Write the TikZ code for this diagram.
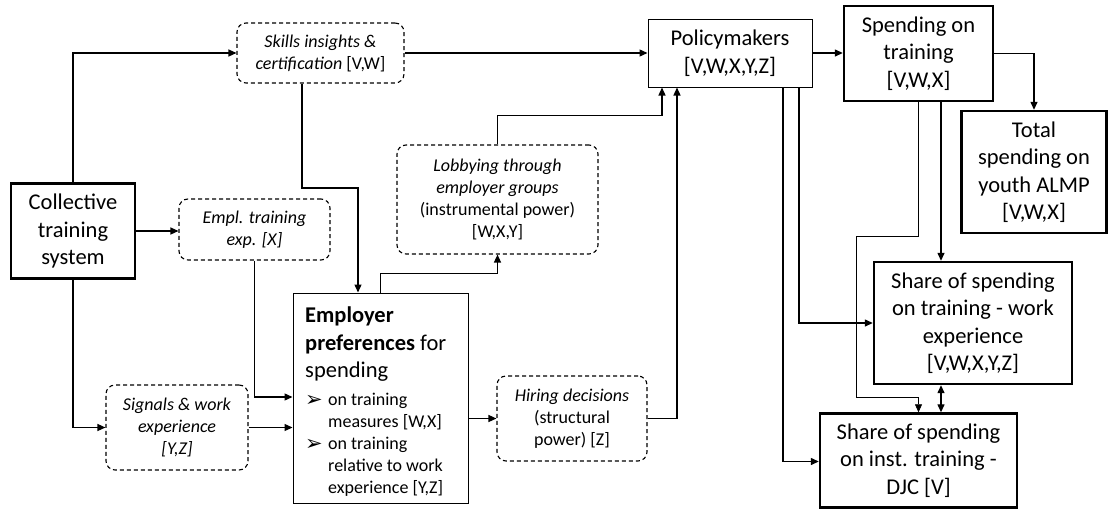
\documentclass[tikz,border=0pt]{standalone}
\usepackage{fontspec}
\setmainfont{Carlito}
\newfontfamily\dejavu{DejaVu Sans}
\usetikzlibrary{arrows.meta}
\tikzset{
  mainfont/.style={font=\fontsize{22.5}{27.5}\selectfont},
  smallfont/.style={font=\fontsize{18}{22}\selectfont},
  thickbox/.style={draw, line width=2.4pt, align=center, inner sep=0pt, mainfont},
  thinbox/.style={draw, line width=1pt, align=center, inner sep=0pt, mainfont},
  dbox/.style={draw, dashed, dash pattern=on 4pt off 3pt, rounded corners=9pt, line width=1.1pt, align=center, inner sep=0pt, smallfont},
  arr/.style={line width=1.3pt, -{Triangle[length=8pt,width=7pt]}},
  thinarr/.style={line width=0.7pt, -{Triangle[length=8pt,width=7pt]}},
  dblarr/.style={line width=1.3pt, {Triangle[length=8pt,width=7pt]}-{Triangle[length=8pt,width=7pt]}},
}
\newcommand{\bulletarrow}{\makebox[23pt][l]{\raisebox{-1pt}{\dejavu\fontsize{21}{22}\selectfont ➢}}}
\begin{document}
\begin{tikzpicture}[x=1pt,y=-1pt]
\useasboundingbox (0,0) rectangle (1109,509);
% nodes
\node[thickbox, minimum width=124, minimum height=95] (coll) at (73,231) {Collective\\training\\system};
\node[dbox, minimum width=167, minimum height=60] (skills) at (320.5,53) {\textit{Skills insights \&}\\\textit{certification} [V,W]};
\node[dbox, minimum width=151, minimum height=61] (empl) at (254.5,229.5) {\textit{Empl. training}\\\textit{exp. [X]}};
\node[dbox, minimum width=142, minimum height=85] (signals) at (177,427.5) {\textit{Signals \& work}\\\textit{experience}\\\textit{[Y,Z]}};
\node[thinbox, minimum width=175, minimum height=210] (emp) at (380.5,398) {};
\node[anchor=north west, inner sep=0pt, align=left, mainfont] (emphead) at (305,307) {\textbf{Employer}\\\textbf{preferences} for\\spending};
\node[anchor=north west, inner sep=0pt, align=left, font=\fontsize{18}{22}\selectfont] (emplist) at (305,393) {\bulletarrow on training\\\hspace*{23pt}measures [W,X]\\\bulletarrow on training\\\hspace*{23pt}relative to work\\\hspace*{23pt}experience [Y,Z]};
\node[dbox, minimum width=201, minimum height=109] (lobby) at (497.5,199.5) {\textit{Lobbying through}\\\textit{employer groups}\\(instrumental power)\\{}[W,X,Y]};
\node[dbox, minimum width=150, minimum height=85] (hiring) at (572,418.5) {\textit{Hiring decisions}\\(structural\\power) [Z]};
\node[thinbox, minimum width=164, minimum height=68] (policy) at (730,53) {Policymakers\\{}[V,W,X,Y,Z]};
\node[thickbox, minimum width=149, minimum height=95] (spend) at (918.5,53.5) {Spending on\\training\\{}[V,W,X]};
\node[thickbox, minimum width=145, minimum height=122] (total) at (1034,172) {Total\\spending on\\youth ALMP\\{}[V,W,X]};
\node[thickbox, minimum width=198, minimum height=122] (work) at (973,323) {Share of spending\\on training - work\\experience\\{}[V,W,X,Y,Z]};
\node[thickbox, minimum width=197, minimum height=94] (djc) at (918.5,460.5) {Share of spending\\on inst. training -\\DJC [V]};
% helper coordinates
\coordinate (s1) at ([xshift=22.5pt]spend.south);
% connectors
\draw[arr] (coll.north) |- (skills.west);
\draw[arr] (coll.east) -- (coll.east -| empl.west);
\draw[arr] (coll.south) |- (signals.west);
\draw[arr] ([xshift=-18.5pt]skills.south) |- (358,188) -- ([xshift=-22.5pt]emp.north);
\draw[arr] (empl.south) |- ([yshift=1pt]emp.west);
\draw[arr] (signals.east) -- (signals.east -| emp.west);
\draw[arr] (emp.north) -- ++(0,-19) -| (lobby.south);
\draw[arr] (lobby.north) -- ++(0,-29) -| ([xshift=-68pt]policy.south);
\draw[arr] (hiring.east) -| ([xshift=-53pt]policy.south);
\draw[arr] (emp.east |- hiring.west) -- (hiring.west);
\draw[arr] (skills.east) -- (policy.west);
\draw[arr] (policy.east) -- (policy.east -| spend.west);
\draw[arr] (spend.east) -| (total.north);
\draw[arr] ([xshift=53pt]policy.south) |- ([yshift=-1pt]djc.west);
\draw[arr] ([xshift=69pt]policy.south) |- (work.west);
\draw[thinarr] (spend.south) -- (918.5,236) -- (856,236) -- (856,397) -| (djc.north);
\draw[arr] (s1) -- (s1 |- work.north);
\draw[dblarr] (s1 |- work.south) -- (s1 |- djc.north);
\end{tikzpicture}
\end{document}
